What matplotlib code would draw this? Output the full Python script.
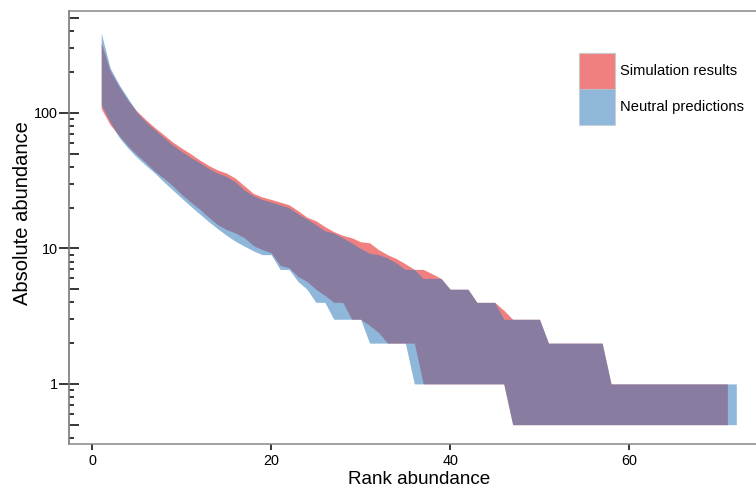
import numpy as np
import matplotlib
matplotlib.use('Agg')
import matplotlib.pyplot as plt
from matplotlib.patches import Patch
from matplotlib.ticker import FixedLocator, NullFormatter

plt.rcParams['font.family'] = ['Liberation Sans', 'DejaVu Sans']

# rank abundance curves: upper / lower envelope of each band
sim_rank = np.arange(1, 72)
sim_upper = [330, 205, 157, 124, 103, 89, 78, 69, 61, 55, 50, 45, 41, 38, 36, 33, 29, 25.5, 24, 23,
             22, 21, 19, 17, 16, 14.5, 13.3, 12.5, 12, 11.2, 11, 9.8, 9, 8.4, 7.7, 7, 7, 6.5, 6, 5,
             5, 5, 4, 4, 4, 3.5, 3, 3, 3, 3] + [2] * 7 + [1] * 14
sim_lower = [108, 82, 68, 57, 49, 43, 37, 33, 29, 25, 22, 19.5, 17, 15, 13.8, 13, 12, 10.5, 9.8, 9.3,
             7.5, 7.2, 6.2, 5.7, 5, 4.5, 4, 4, 3, 3, 2.7, 2.4, 2, 2, 2, 2] + [1] * 10 + [0.5] * 25

neutral_rank = np.arange(1, 73)
neutral_upper = [390, 215, 162, 128, 101, 86, 75, 66, 58, 52, 47, 43, 39, 36, 34, 31, 27, 24.5, 23, 22,
                 21, 20, 18, 16.5, 15, 13.5, 13, 12, 11, 10, 9.2, 9, 8.5, 7.8, 7, 7, 6, 6, 6, 5,
                 5, 5, 4, 4, 4, 3] + [3] * 4 + [2] * 7 + [1] * 15
neutral_lower = [115, 86, 66, 55, 47, 41, 36, 31, 27, 23.5, 20.5, 18, 15.8, 14, 12.5, 11.3, 10.4, 9.6, 9, 9,
                 7, 7, 5.7, 5, 4, 4, 3, 3, 3, 3] + [2] * 5 + [1] * 11 + [0.5] * 26

red = '#f08080'
blue = '#337cbc'
blue_alpha = 0.55

fig = plt.figure(figsize=(7.56, 4.9), dpi=100)
ax = fig.add_axes([69 / 756, 46 / 490, 687 / 756, 433 / 490])

ax.fill_between(sim_rank, sim_lower, sim_upper, color=red, lw=0)
ax.fill_between(neutral_rank, neutral_lower, neutral_upper, color=blue, alpha=blue_alpha, lw=0)

ax.set_yscale('log')
ax.set_xlim(-2.6, 74.2)
ax.set_ylim(0.36, 566)

# frame like the original
for s in ['left', 'bottom', 'top']:
    ax.spines[s].set_color('#888888')
    ax.spines[s].set_linewidth(1.1)
ax.spines['right'].set_visible(False)

ax.set_xticks([0, 20, 40, 60])
ax.tick_params(axis='x', direction='out', length=4, width=1.1, color='black',
               labelsize=10.4, pad=3)

decades = [0.1, 1, 10, 100]
minor = [m * d for d in decades for m in [2, 3, 4, 6, 7, 8, 9]]
ax.yaxis.set_major_locator(FixedLocator([1, 10, 100]))
ax.set_yticklabels(['1', '10', '100'])
ax.yaxis.set_minor_locator(FixedLocator(minor))
ax.yaxis.set_minor_formatter(NullFormatter())
ax.tick_params(axis='y', which='major', direction='inout', length=14.5, width=1.1,
               color='black', labelsize=10.4, pad=1)
ax.tick_params(axis='y', which='minor', direction='in', length=3.6, width=1.1, color='black')

# medium ticks at the 5s
sec = ax.secondary_yaxis('left')
sec.set_yscale('log')
sec.yaxis.set_major_locator(FixedLocator([0.5, 5, 50, 500]))
sec.yaxis.set_major_formatter(NullFormatter())
sec.yaxis.set_minor_locator(FixedLocator([]))
sec.tick_params(axis='y', which='both', direction='in', length=7.2, width=1.1, color='black')
sec.spines['left'].set_color('#888888')
sec.spines['left'].set_linewidth(1.1)

ax.set_xlabel('Rank abundance', fontsize=13.6)
ax.xaxis.set_label_coords(0.509, -0.063)
ax.set_ylabel('Absolute abundance', fontsize=14.5)
ax.yaxis.set_label_coords(-0.054, 0.533)

handles = [Patch(facecolor=red, edgecolor='#c8c8c8', lw=0.8, label='Simulation results'),
           Patch(facecolor=blue, alpha=blue_alpha, edgecolor='#c8c8c8', lw=0.8, label='Neutral predictions')]
fig.legend(handles=handles, loc='upper left', bbox_to_anchor=(579 / 756, 1 - 52.7 / 490),
           frameon=False, fontsize=10.6, handlelength=2.45, handleheight=3.39,
           labelspacing=0, handletextpad=0.35, borderpad=0, borderaxespad=0)

fig.savefig('out.png', dpi=100)
